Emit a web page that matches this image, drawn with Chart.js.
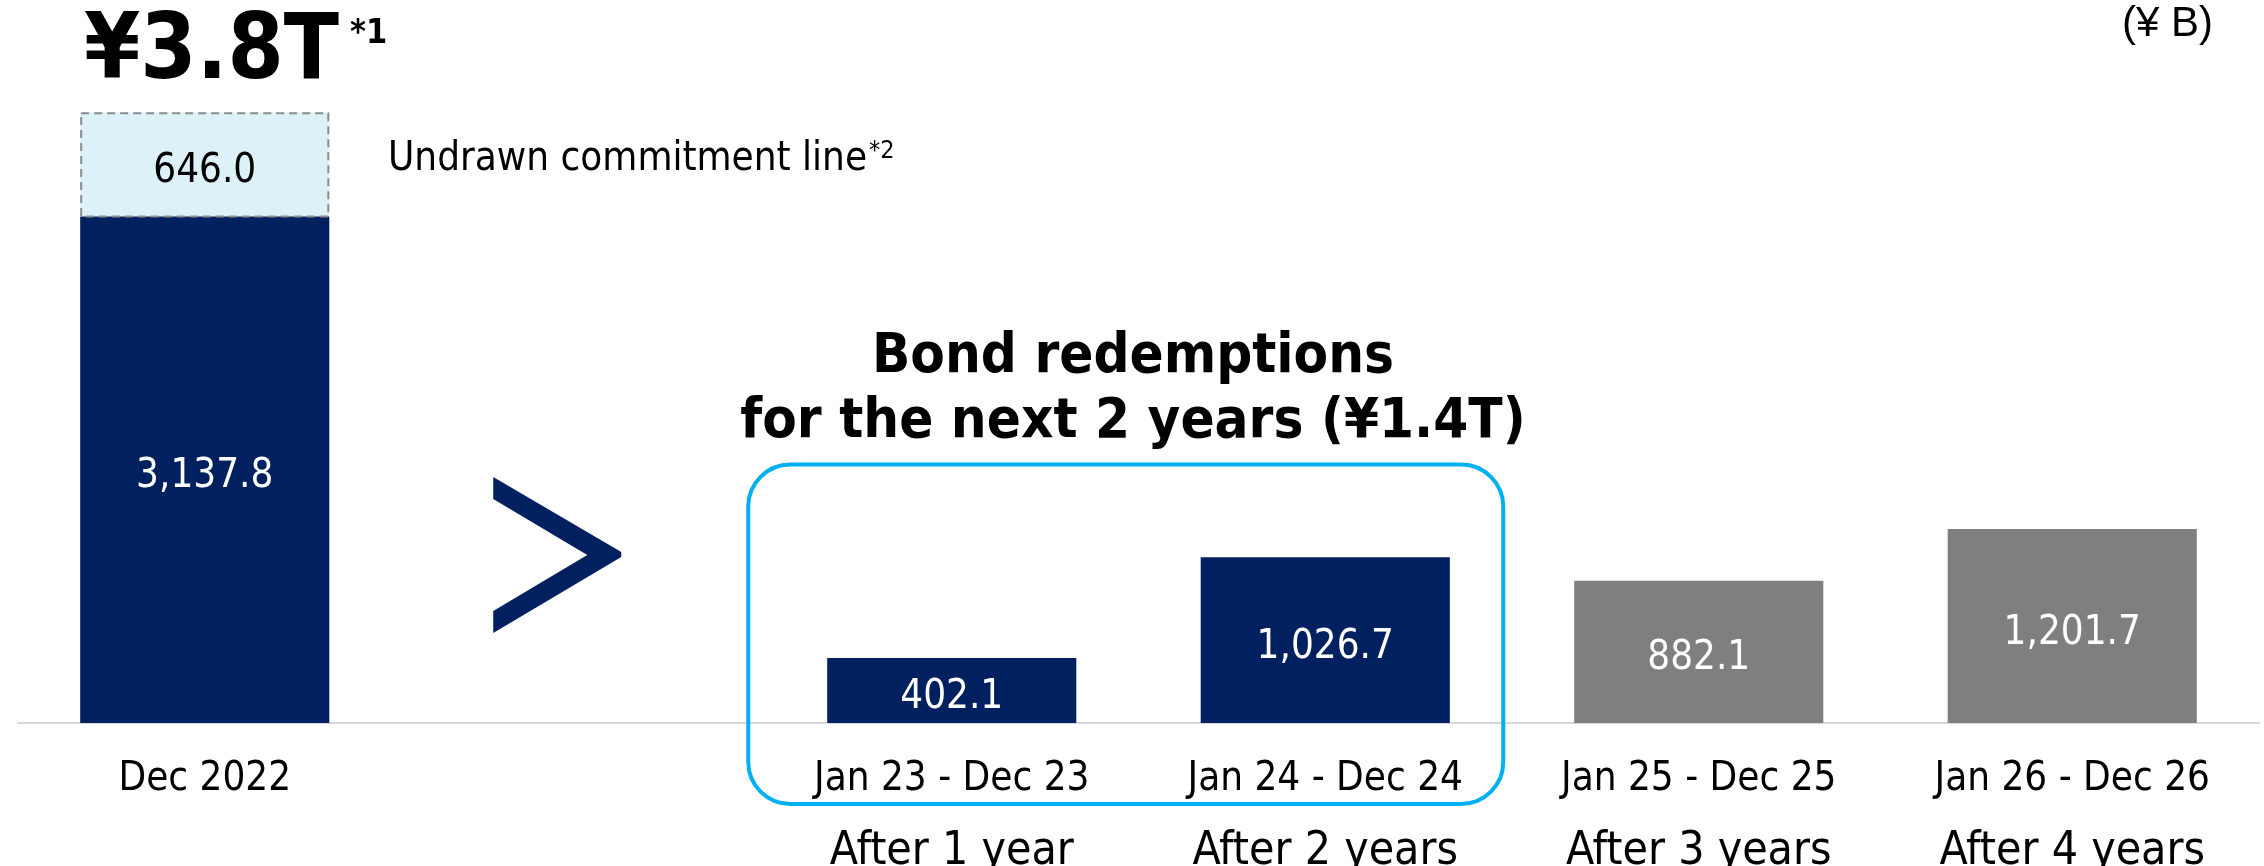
<!DOCTYPE html>
<html>
<head>
<meta charset="utf-8">
<script src="https://cdn.jsdelivr.net/npm/chart.js@4"></script>
<style>
  html, body { margin: 0; padding: 0; background: #ffffff; }
  #wrap { width: 2264px; height: 866px; position: relative; }
</style>
</head>
<body>
<div id="wrap"><canvas id="c" width="2264" height="866"></canvas></div>
<script>
// ---- data ----
const categories   = ['Dec 2022', '', 'Jan 23 - Dec 23', 'Jan 24 - Dec 24', 'Jan 25 - Dec 25', 'Jan 26 - Dec 26'];
const periodLabels = ['', '', 'After 1 year', 'After 2 years', 'After 3 years', 'After 4 years'];
const liquidity    = [3137.8, null, null, null, null, null];
const undrawnLine  = [646.0, null, null, null, null, null];
const redemptions  = [null, null, 402.1, 1026.7, 882.1, 1201.7];
const highlightedPeriods = ['Jan 23 - Dec 23', 'Jan 24 - Dec 24'];
const totalLiquidityText = '¥3.8T';
const headlineLines = ['Bond redemptions', 'for the next 2 years (¥1.4T)'];
const unitText = '(¥ B)';
const undrawnText = 'Undrawn commitment line';

// ---- styles ----
const NAVY = '#002060', GRAY = '#7f7f7f', LIGHT = '#ddf2f8', BOX = '#00b0f0';
function hasFont(name) {
  const c = document.createElement('canvas').getContext('2d');
  const t = 'mmmmmmmmmmlli1234WWabc';
  c.font = '40px monospace';
  const a = c.measureText(t).width;
  c.font = "40px '" + name + "', monospace";
  return c.measureText(t).width !== a;
}
const COND = hasFont('DejaVu Sans Condensed');
const FAM = COND ? "'DejaVu Sans Condensed', 'DejaVu Sans', sans-serif" : "'DejaVu Sans', sans-serif";
const K = COND ? 1 : 0.9;

const fmt = v => v.toLocaleString('en-US', { minimumFractionDigits: 1, maximumFractionDigits: 1 });

const decor = {
  id: 'decor',
  afterDatasetsDraw(chart) {
    const ctx = chart.ctx;
    // dashed outline of undrawn commitment segment
    const el = chart.getDatasetMeta(1).data[0];
    ctx.save();
    ctx.strokeStyle = '#8c8c8c';
    ctx.lineWidth = 2;
    ctx.setLineDash([8, 5]);
    ctx.strokeRect(el.x - el.width / 2 + 1, el.y + 1, el.width - 2, el.base - el.y - 1);
    ctx.restore();
    // value labels
    const fs = 40 * K;
    chart.data.datasets.forEach((ds, di) => {
      const meta = chart.getDatasetMeta(di);
      meta.data.forEach((bar, i) => {
        const v = ds.data[i];
        if (v == null) return;
        const cy = (bar.y + bar.base) / 2 + 3;
        ctx.save();
        ctx.font = fs + 'px ' + FAM;
        ctx.fillStyle = ds.labelColor;
        ctx.textAlign = 'center';
        ctx.textBaseline = 'alphabetic';
        ctx.fillText(fmt(v), bar.x, cy + 0.365 * 40);
        ctx.restore();
      });
    });
  },
  afterDraw(chart) {
    const ctx = chart.ctx;
    const xs = chart.scales.x, ys = chart.scales.y;
    const by = ys.getPixelForValue(0);
    ctx.save();
    // chevron in the empty slot
    const cx = xs.getPixelForValue(1);
    const L = cx - 85, T = cx + 43, IT = cx + 9, cy = by - 168;
    ctx.fillStyle = NAVY;
    ctx.beginPath();
    ctx.moveTo(L, cy - 78);
    ctx.lineTo(T, cy - 3);
    ctx.lineTo(T, cy + 2);
    ctx.lineTo(L, cy + 78);
    ctx.lineTo(L, cy + 56);
    ctx.lineTo(IT, cy);
    ctx.lineTo(L, cy - 56);
    ctx.closePath();
    ctx.fill();
    // rounded highlight box around the next 2 years
    const i0 = categories.indexOf(highlightedPeriods[0]);
    const i1 = categories.indexOf(highlightedPeriods[1]);
    const left = xs.getPixelForValue(i0) - 203.5;
    const right = xs.getPixelForValue(i1) + 178;
    const top = by - 258.5, bottom = by + 81;
    ctx.strokeStyle = BOX;
    ctx.lineWidth = 4;
    ctx.beginPath();
    ctx.roundRect(left, top, right - left, bottom - top, 42);
    ctx.stroke();
    // headline
    ctx.fillStyle = '#000000';
    ctx.textAlign = 'center';
    ctx.textBaseline = 'alphabetic';
    ctx.font = 'bold ' + (56 * K) + 'px ' + FAM;
    ctx.fillText(headlineLines[0], 1133, 372);
    ctx.fillText(headlineLines[1], 1133, 437);
    // total liquidity
    ctx.textAlign = 'left';
    ctx.font = 'bold ' + (90 * K) + 'px ' + FAM;
    ctx.fillText(totalLiquidityText, 84, 78);
    ctx.font = 'bold ' + (34 * K) + 'px ' + FAM;
    ctx.fillText('*1', 350, 43);
    // undrawn commitment line note
    ctx.font = (40 * K) + 'px ' + FAM;
    ctx.fillText(undrawnText, 388, 170);
    const w = ctx.measureText(undrawnText).width;
    ctx.font = (25 * K) + 'px ' + FAM;
    ctx.fillText('*2', 388 + w + 2, 158);
    // unit
    ctx.textAlign = 'right';
    ctx.font = "42px 'Liberation Sans', Arial, sans-serif";
    ctx.fillText(unitText, 2213, 36);
    ctx.restore();
  }
};

const chart = new Chart(document.getElementById('c'), {
  type: 'bar',
  data: {
    labels: categories,
    datasets: [
      { label: 'Cash and deposits', data: liquidity, backgroundColor: NAVY, labelColor: '#ffffff' },
      { label: 'Undrawn commitment line', data: undrawnLine, backgroundColor: LIGHT, labelColor: '#000000' },
      { label: 'Bond redemptions', data: redemptions, labelColor: '#ffffff',
        backgroundColor: c => highlightedPeriods.includes(categories[c.dataIndex]) ? NAVY : GRAY }
    ]
  },
  options: {
    responsive: false,
    animation: false,
    devicePixelRatio: 1,
    layout: { padding: { left: 18, right: 5, top: 0, bottom: 0 } },
    datasets: { bar: { barPercentage: 0.667, categoryPercentage: 1, borderWidth: 0 } },
    plugins: { legend: { display: false }, tooltip: { enabled: false } },
    scales: {
      x: {
        stacked: true,
        offset: true,
        weight: 0,
        grid: { display: false, drawTicks: false },
        border: { display: true, color: '#d9d9d9', width: 2 },
        ticks: { color: '#000000', padding: 37, maxRotation: 0, minRotation: 0, autoSkip: false,
                 font: { family: FAM, size: 40 * K, lineHeight: 1 } },
        afterFit: s => { s.height = 77; }
      },
      x2: {
        type: 'category',
        labels: periodLabels,
        position: 'bottom',
        weight: 1,
        offset: true,
        grid: { display: false, drawTicks: false },
        border: { display: false },
        ticks: { color: '#000000', padding: 40.5, maxRotation: 0, minRotation: 0, autoSkip: false,
                 font: { family: FAM, size: 46 * K, lineHeight: 0.5 } },
        afterFit: s => { s.height = 66; }
      },
      y: {
        stacked: true,
        display: false,
        min: 0,
        max: 4480
      }
    }
  },
  plugins: [decor]
});
</script>
</body>
</html>
